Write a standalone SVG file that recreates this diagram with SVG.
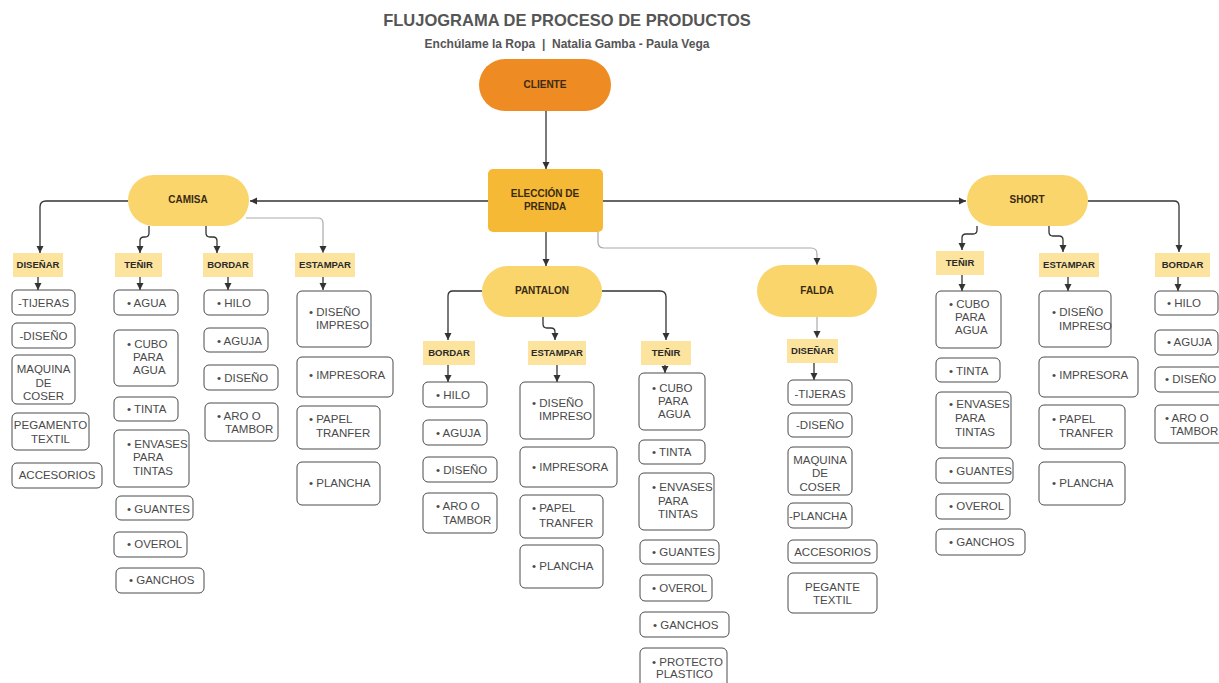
<svg xmlns="http://www.w3.org/2000/svg" width="1219" height="683" viewBox="0 0 1219 683">
<style>
.bg{fill:#fff}
.ttl{font-family:"Liberation Sans",Arial,sans-serif;font-weight:bold;fill:#555;text-anchor:middle}
.it rect{fill:#fff;stroke:#4a4a4a;stroke-width:1}
.it text{font-family:"Liberation Sans",Arial,sans-serif;font-size:11.5px;fill:#4a4a4a}
.ctr text{text-anchor:middle}
.lb rect{fill:#FCE49E}
.lb text{font-family:"Liberation Sans",Arial,sans-serif;font-size:9.5px;font-weight:bold;fill:#2a2a2a;text-anchor:middle}
.pill rect{fill:#F9D56C}
.pill text,.main text{font-family:"Liberation Sans",Arial,sans-serif;font-size:10px;font-weight:bold;fill:#3a2a12;text-anchor:middle}
.c{fill:none;stroke:#333;stroke-width:1.3;marker-end:url(#ah)}
.cl{fill:none;stroke:#aaa;stroke-width:1.2;marker-end:url(#ah)}
</style>
<defs>
<marker id="ah" markerUnits="userSpaceOnUse" markerWidth="8" markerHeight="8" refX="7" refY="4" orient="auto">
<path d="M0,0.5 L7,4 L0,7.5 z" fill="#333"/>
</marker>
</defs>
<rect class="bg" x="0" y="0" width="1219" height="683"/>
<text class="ttl" x="567" y="26" font-size="16.5">FLUJOGRAMA DE PROCESO DE PRODUCTOS</text>
<text class="ttl" x="567" y="48" font-size="12" xml:space="preserve">Enchúlame la Ropa  |  Natalia Gamba - Paula Vega</text>

<g id="connectors">
<path class="c" d="M546,111 V169"/>
<path class="c" d="M488,201 H250"/>
<path class="c" d="M603,201 H966"/>
<path class="c" d="M546,232 V266"/>
<path class="cl" d="M598,232 V242 Q598,248 604,248 H811 Q817,248 817,254 V265"/>
<path class="c" d="M128,201 H46 Q40,201 40,207 V253"/>
<path class="c" d="M149,226 V233 Q149,237 145,237 H144 Q140,237 140,241 V253"/>
<path class="c" d="M206,226 V233 Q206,237 210,237 H213 Q217,237 217,241 V253"/>
<path class="cl" d="M246,218 H318 Q323,218 323,223 V253"/>
<path class="c" d="M38,277 V290"/>
<path class="c" d="M140,277 V290"/>
<path class="c" d="M228,277 V290"/>
<path class="c" d="M323,277 V290"/>
<path class="c" d="M482,291 H453 Q448,291 448,296 V340"/>
<path class="c" d="M543,317 V324 Q543,328 547,328 H551 Q555,328 555,332 V340"/>
<path class="c" d="M602,291 H660 Q666,291 666,297 V340"/>
<path class="cl" d="M817,317 V338"/>
<path class="c" d="M448,365 V382"/>
<path class="c" d="M557,365 V382"/>
<path class="c" d="M665,365 V373"/>
<path class="c" d="M814,363 V380"/>
<path class="c" d="M977,226 V230 Q977,234 973,234 H966 Q962,234 962,238 V250"/>
<path class="c" d="M1049,226 V232 Q1049,236 1053,236 H1059 Q1063,236 1063,240 V252"/>
<path class="c" d="M1088,201 H1174 Q1179,201 1179,206 V252"/>
<path class="c" d="M962,275 V291"/>
<path class="c" d="M1068,277 V291"/>
<path class="c" d="M1178,277 V291"/>
</g>

<g id="cliente" class="main"><rect x="479" y="59" width="132" height="52" rx="26" fill="#EE8B22"/><text x="545" y="88" fill="#4a1e05">CLIENTE</text></g>
<g id="eleccion" class="main"><rect x="488" y="169" width="115" height="63" rx="5" fill="#F5B935"/><text x="545" y="197">ELECCIÓN DE</text><text x="545" y="210">PRENDA</text></g>
<g id="camisa" class="pill"><rect x="128" y="175" width="121" height="51" rx="25.5"/><text x="188" y="203">CAMISA</text></g>
<g id="pantalon" class="pill"><rect x="482" y="266" width="120" height="51" rx="25.5"/><text x="542" y="294">PANTALON</text></g>
<g id="falda" class="pill"><rect x="757" y="265" width="120" height="52" rx="26"/><text x="817" y="294">FALDA</text></g>
<g id="short" class="pill"><rect x="967" y="175" width="121" height="51" rx="25.5"/><text x="1027" y="203">SHORT</text></g>

<g id="camisa-disenar" class="lb"><rect x="13" y="253" width="50" height="24"/><text x="38" y="268">DISEÑAR</text></g>
<g id="camisa-tenir" class="lb"><rect x="115" y="253" width="47" height="24"/><text x="138.5" y="268">TEÑIR</text></g>
<g id="camisa-bordar" class="lb"><rect x="203" y="253" width="50" height="24"/><text x="228" y="268">BORDAR</text></g>
<g id="camisa-estampar" class="lb"><rect x="295" y="253" width="60" height="24"/><text x="325" y="268">ESTAMPAR</text></g>
<g id="pantalon-bordar" class="lb"><rect x="423" y="341" width="52" height="24"/><text x="449" y="356">BORDAR</text></g>
<g id="pantalon-estampar" class="lb"><rect x="528" y="341" width="58" height="24"/><text x="557" y="356">ESTAMPAR</text></g>
<g id="pantalon-tenir" class="lb"><rect x="641" y="341" width="50" height="24"/><text x="666" y="356">TEÑIR</text></g>
<g id="falda-disenar" class="lb"><rect x="787" y="339" width="51" height="24"/><text x="812.5" y="354">DISEÑAR</text></g>
<g id="short-tenir" class="lb"><rect x="936" y="251" width="48" height="24"/><text x="960" y="266">TEÑIR</text></g>
<g id="short-estampar" class="lb"><rect x="1039" y="253" width="60" height="24"/><text x="1069" y="268">ESTAMPAR</text></g>
<g id="short-bordar" class="lb"><rect x="1155" y="253" width="55" height="24"/><text x="1182.5" y="268">BORDAR</text></g>

<!-- CAMISA DISEÑAR -->
<g id="c-d1" class="it ctr"><rect x="12" y="290" width="63" height="25" rx="5"/><text x="43.5" y="307">-TIJERAS</text></g>
<g id="c-d2" class="it ctr"><rect x="12" y="323" width="63" height="25" rx="5"/><text x="43.5" y="340">-DISEÑO</text></g>
<g id="c-d3" class="it ctr"><rect x="12" y="355" width="63" height="49" rx="5"/><text x="43.5" y="373">MAQUINA</text><text x="43.5" y="387">DE</text><text x="43.5" y="400">COSER</text></g>
<g id="c-d4" class="it ctr"><rect x="12" y="413" width="77" height="37" rx="5"/><text x="50.5" y="429">PEGAMENTO</text><text x="50.5" y="443">TEXTIL</text></g>
<g id="c-d5" class="it ctr"><rect x="12" y="463" width="90" height="25" rx="5"/><text x="57" y="479">ACCESORIOS</text></g>
<!-- CAMISA TEÑIR -->
<g id="c-t1" class="it"><rect x="114" y="290" width="64" height="25" rx="5"/><text x="127" y="307">• AGUA</text></g>
<g id="c-t2" class="it"><rect x="114" y="330" width="64" height="56" rx="5"/><text x="127" y="348">• CUBO</text><text x="133" y="361">PARA</text><text x="133" y="374">AGUA</text></g>
<g id="c-t3" class="it"><rect x="114" y="397" width="64" height="24" rx="5"/><text x="127" y="413">• TINTA</text></g>
<g id="c-t4" class="it"><rect x="114" y="430" width="75" height="57" rx="5"/><text x="127" y="448">• ENVASES</text><text x="133" y="461">PARA</text><text x="133" y="475">TINTAS</text></g>
<g id="c-t5" class="it"><rect x="116" y="496" width="77" height="24" rx="5"/><text x="127" y="513">• GUANTES</text></g>
<g id="c-t6" class="it"><rect x="114" y="532" width="73" height="25" rx="5"/><text x="127" y="548">• OVEROL</text></g>
<g id="c-t7" class="it"><rect x="116" y="568" width="88" height="25" rx="5"/><text x="129" y="584">• GANCHOS</text></g>
<!-- CAMISA BORDAR -->
<g id="c-b1" class="it"><rect x="204" y="290" width="64" height="25" rx="5"/><text x="217" y="307">• HILO</text></g>
<g id="c-b2" class="it"><rect x="204" y="328" width="64" height="24" rx="5"/><text x="217" y="345">• AGUJA</text></g>
<g id="c-b3" class="it"><rect x="204" y="365" width="74" height="25" rx="5"/><text x="217" y="382">• DISEÑO</text></g>
<g id="c-b4" class="it"><rect x="205" y="403" width="73" height="38" rx="5"/><text x="217" y="420">• ARO O</text><text x="225" y="433">TAMBOR</text></g>
<!-- CAMISA ESTAMPAR -->
<g id="c-e1" class="it"><rect x="297" y="291" width="74" height="56" rx="5"/><text x="309" y="316">• DISEÑO</text><text x="316" y="329">IMPRESO</text></g>
<g id="c-e2" class="it"><rect x="297" y="357" width="96" height="40" rx="5"/><text x="309" y="379">• IMPRESORA</text></g>
<g id="c-e3" class="it"><rect x="297" y="406" width="83" height="43" rx="5"/><text x="309" y="423">• PAPEL</text><text x="316" y="437">TRANFER</text></g>
<g id="c-e4" class="it"><rect x="297" y="462" width="83" height="43" rx="5"/><text x="309" y="487">• PLANCHA</text></g>

<!-- PANTALON BORDAR -->
<g id="p-b1" class="it"><rect x="423" y="382" width="64" height="25" rx="5"/><text x="436" y="399">• HILO</text></g>
<g id="p-b2" class="it"><rect x="423" y="420" width="64" height="25" rx="5"/><text x="436" y="437">• AGUJA</text></g>
<g id="p-b3" class="it"><rect x="423" y="457" width="74" height="25" rx="5"/><text x="436" y="474">• DISEÑO</text></g>
<g id="p-b4" class="it"><rect x="423" y="493" width="74" height="40" rx="5"/><text x="436" y="510">• ARO O</text><text x="443" y="524">TAMBOR</text></g>
<!-- PANTALON ESTAMPAR -->
<g id="p-e1" class="it"><rect x="520" y="382" width="74" height="57" rx="5"/><text x="532" y="407">• DISEÑO</text><text x="539" y="420">IMPRESO</text></g>
<g id="p-e2" class="it"><rect x="520" y="447" width="97" height="40" rx="5"/><text x="532" y="471">• IMPRESORA</text></g>
<g id="p-e3" class="it"><rect x="520" y="495" width="83" height="43" rx="5"/><text x="532" y="512">• PAPEL</text><text x="539" y="527">TRANFER</text></g>
<g id="p-e4" class="it"><rect x="520" y="545" width="83" height="43" rx="5"/><text x="532" y="570">• PLANCHA</text></g>
<!-- PANTALON TEÑIR -->
<g id="p-t1" class="it"><rect x="639" y="373" width="66" height="57" rx="5"/><text x="652" y="392">• CUBO</text><text x="658" y="405">PARA</text><text x="658" y="418">AGUA</text></g>
<g id="p-t2" class="it"><rect x="639" y="440" width="66" height="24" rx="5"/><text x="652" y="456">• TINTA</text></g>
<g id="p-t3" class="it"><rect x="639" y="473" width="75" height="57" rx="5"/><text x="652" y="491">• ENVASES</text><text x="658" y="505">PARA</text><text x="658" y="518">TINTAS</text></g>
<g id="p-t4" class="it"><rect x="640" y="540" width="79" height="24" rx="5"/><text x="652" y="556">• GUANTES</text></g>
<g id="p-t5" class="it"><rect x="640" y="575" width="72" height="26" rx="5"/><text x="652" y="592">• OVEROL</text></g>
<g id="p-t6" class="it"><rect x="640" y="612" width="89" height="25" rx="5"/><text x="653" y="629">• GANCHOS</text></g>
<g id="p-t7" class="it"><rect x="640" y="648" width="87" height="40" rx="5"/><text x="652" y="666">• PROTECTO</text><text x="656" y="678">PLASTICO</text></g>

<!-- FALDA DISEÑAR -->
<g id="f-d1" class="it ctr"><rect x="788" y="380" width="64" height="25" rx="5"/><text x="820" y="398">-TIJERAS</text></g>
<g id="f-d2" class="it ctr"><rect x="788" y="413" width="64" height="24" rx="5"/><text x="820" y="429">-DISEÑO</text></g>
<g id="f-d3" class="it ctr"><rect x="788" y="447" width="64" height="48" rx="5"/><text x="820" y="464">MAQUINA</text><text x="820" y="477">DE</text><text x="820" y="491">COSER</text></g>
<g id="f-d4" class="it ctr"><rect x="788" y="503" width="64" height="25" rx="5"/><text x="818" y="520">-PLANCHA</text></g>
<g id="f-d5" class="it ctr"><rect x="788" y="540" width="89" height="23" rx="5"/><text x="832.5" y="556">ACCESORIOS</text></g>
<g id="f-d6" class="it ctr"><rect x="788" y="573" width="89" height="40" rx="5"/><text x="832.5" y="591">PEGANTE</text><text x="832.5" y="604">TEXTIL</text></g>

<!-- SHORT TEÑIR -->
<g id="s-t1" class="it"><rect x="936" y="291" width="65" height="57" rx="5"/><text x="949" y="308">• CUBO</text><text x="955" y="321">PARA</text><text x="955" y="334">AGUA</text></g>
<g id="s-t2" class="it"><rect x="936" y="358" width="64" height="24" rx="5"/><text x="949" y="375">• TINTA</text></g>
<g id="s-t3" class="it"><rect x="936" y="392" width="75" height="56" rx="5"/><text x="949" y="408">• ENVASES</text><text x="955" y="422">PARA</text><text x="955" y="436">TINTAS</text></g>
<g id="s-t4" class="it"><rect x="936" y="458" width="77" height="25" rx="5"/><text x="949" y="475">• GUANTES</text></g>
<g id="s-t5" class="it"><rect x="936" y="494" width="74" height="25" rx="5"/><text x="949" y="510">• OVEROL</text></g>
<g id="s-t6" class="it"><rect x="936" y="529" width="89" height="26" rx="5"/><text x="949" y="546">• GANCHOS</text></g>
<!-- SHORT ESTAMPAR -->
<g id="s-e1" class="it"><rect x="1039" y="291" width="72" height="56" rx="5"/><text x="1052" y="316">• DISEÑO</text><text x="1059" y="330">IMPRESO</text></g>
<g id="s-e2" class="it"><rect x="1039" y="357" width="99" height="40" rx="5"/><text x="1052" y="379">• IMPRESORA</text></g>
<g id="s-e3" class="it"><rect x="1039" y="405" width="86" height="44" rx="5"/><text x="1052" y="423">• PAPEL</text><text x="1059" y="437">TRANFER</text></g>
<g id="s-e4" class="it"><rect x="1039" y="462" width="86" height="43" rx="5"/><text x="1052" y="487">• PLANCHA</text></g>
<!-- SHORT BORDAR -->
<g id="s-b1" class="it"><rect x="1155" y="291" width="63" height="24" rx="5"/><text x="1167" y="307">• HILO</text></g>
<g id="s-b2" class="it"><rect x="1155" y="330" width="63" height="25" rx="5"/><text x="1167" y="346">• AGUJA</text></g>
<g id="s-b3" class="it"><rect x="1155" y="367" width="70" height="25" rx="5"/><text x="1165" y="383">• DISEÑO</text></g>
<g id="s-b4" class="it"><rect x="1155" y="405" width="70" height="38" rx="5"/><text x="1165" y="422">• ARO O</text><text x="1170" y="435">TAMBOR</text></g>
</svg>
